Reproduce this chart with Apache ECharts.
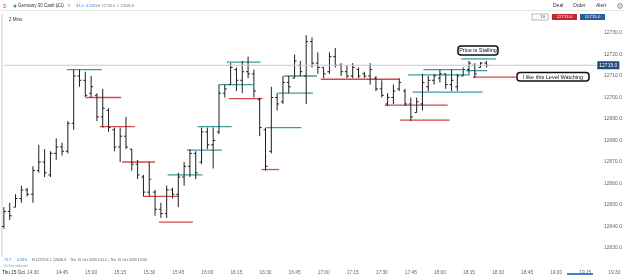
<!DOCTYPE html>
<html>
<head>
<meta charset="utf-8">
<script src="https://cdn.jsdelivr.net/npm/echarts/dist/echarts.min.js"></script>
<style>
html,body{margin:0;padding:0;background:#fff;}
#chart{width:625px;height:275px;}
</style>
</head>
<body>
<div id="chart"></div>
<script>
// 3 minute bars, Germany 30 Cash, Thu 15 Oct
var barTimes=[
'14:15','14:18','14:21','14:24','14:27','14:30','14:33','14:36','14:39','14:42',
'14:45','14:48','14:51','14:54','14:57','15:00','15:03','15:06','15:09','15:12',
'15:15','15:18','15:21','15:24','15:27','15:30','15:33','15:36','15:39','15:42',
'15:45','15:48','15:51','15:54','15:57','16:00','16:03','16:06','16:09','16:12',
'16:15','16:18','16:21','16:24','16:27','16:30','16:33','16:36','16:39','16:42',
'16:45','16:48','16:51','16:54','16:57','17:00','17:03','17:06','17:09','17:12',
'17:15','17:18','17:21','17:24','17:27','17:30','17:33','17:36','17:39','17:42',
'17:45','17:48','17:51','17:54','17:57','18:00','18:03','18:06','18:09','18:12',
'18:15','18:18','18:21','18:24'];
var openData=[
12640,12647,12649,12653,12657,12655,12666,12670,12664,12674,
12677,12675,12688,12710,12708,12702,12701,12691,12694,12685,
12677,12682,12676,12669,12663,12656,12656,12648,12646,12657,
12655,12663,12668,12674,12670,12684,12678,12684,12702,12706,
12713,12708,12712,12711,12699,12685,12675,12700,12698,12707,
12709,12715,12710,12726,12716,12714,12712,12719,12715,12712,
12710,12713,12711,12710,12709,12704,12697,12700,12704,12703,
12697,12693,12697,12705,12708,12709,12711,12706,12705,12710,
12713,12715,12714,12716];
var highData=[
12649,12651,12655,12659,12658,12668,12678,12676,12675,12681,
12679,12689,12713,12713,12712,12710,12702,12704,12695,12686,
12686,12691,12676,12671,12664,12670,12657,12651,12659,12658,
12665,12670,12676,12675,12686,12686,12686,12706,12706,12716,
12714,12717,12719,12713,12700,12686,12705,12702,12710,12710,
12720,12717,12729,12728,12721,12714,12721,12723,12716,12715,
12716,12714,12712,12716,12710,12708,12702,12706,12709,12704,
12700,12700,12711,12710,12711,12713,12711,12713,12711,12714,
12717,12716,12716.5,12717];
var lowData=[
12639,12643,12649,12651,12654,12651,12665,12663,12663,12671,
12673,12674,12685,12705,12700,12700,12689,12686,12684,12675,
12670,12676,12666,12662,12654,12654,12645,12644,12644,12653,
12649,12659,12663,12662,12669,12676,12667,12683,12700,12706,
12703,12702,12709,12700,12682,12666,12674,12694,12697,12702,
12709,12710,12697,12714,12711,12709,12711,12714,12710,12709,
12709,12709,12709,12706,12703,12700,12696,12697,12703,12696,
12689,12693,12694,12703,12706,12707,12704,12703,12703,12710,
12711,12709,12714,12714];
var closeData=[
12647,12645,12653,12657,12655,12666,12670,12665,12674,12677,
12675,12688,12710,12708,12701,12705,12691,12695,12686,12677,
12682,12677,12669,12664,12656,12662,12648,12646,12657,12655,
12663,12668,12674,12665,12684,12678,12680,12702,12704,12714,
12708,12712,12711,12703,12686,12668,12700,12697,12707,12705,
12717,12712,12726,12716,12714,12711,12719,12715,12712,12710,
12714,12710,12710,12713,12704,12701,12700,12703,12707,12697,
12691,12698,12707,12708,12710,12711,12706,12708,12710,12713,
12716,12711,12716,12715];

// drawn levels (minutes after 14:00), 't' teal / 'r' red
var levelStart=[47.5,57.5,64.5,76,87,95,99.5,109.5,115,126,130,131,150.5,148,156.5,159.5,178.5,223.5,231.5,226,211.5,219.5,257,251,253.5];
var levelEnd=[65.5,75.5,82.5,93,105,112.5,117.5,127.5,132.5,143.5,147.5,148.5,168.5,157,174.5,176.5,219,255.5,251.5,262,244,245,279.5,269,264.5];
var levelPrice=[12713,12700,12686.5,12670,12654,12642,12664,12675.5,12686.5,12706,12716.5,12699.5,12686,12666.5,12702,12710,12708.5,12710.5,12713,12702.5,12696.5,12689.5,12709.5,12718,12712.5];
var levelKind=['t','r','r','r','r','r','t','t','t','t','t','r','t','r','t','t','r','t','t','t','r','r','r','t','t'];

var lastPrice=12715;
var priceLineEnd=320.7;

function toMin(s){var p=s.split(':');return (+p[0]-14)*60+(+p[1]);}
function fmtMin(v){var h=14+Math.floor(v/60),m=v%60;return h+':'+(m<10?'0':'')+m;}

var bars=[];
for(var i=0;i<barTimes.length;i++){
	bars.push([toMin(barTimes[i]),openData[i],highData[i],lowData[i],closeData[i]]);
}
var levels=[];
for(var j=0;j<levelPrice.length;j++){
	levels.push([levelStart[j],levelEnd[j],levelPrice[j],levelKind[j]=='t'?0:1]);
}

var FONT='"Liberation Sans", Arial, sans-serif';
var myChart=echarts.init(document.getElementById('chart'));

function txt(x,y,s,size,color,extra){
	var o={type:'text',x:x,y:y,style:{text:s,fontSize:size,fill:color,fontFamily:FONT,verticalAlign:'middle'}};
	if(extra){for(var k in extra){o.style[k]=extra[k];}}
	return o;
}
function note(x,y,w,h,s){
	return {type:'group',x:x,y:y,children:[
		{type:'rect',shape:{x:0,y:0,width:w,height:h,r:3},style:{fill:'#fff',stroke:'#111',lineWidth:1.5}},
		{type:'text',x:w/2,y:h/2+0.3,style:{text:s,fontSize:5.5,fill:'#111',fontFamily:FONT,align:'center',verticalAlign:'middle'}}
	]};
}

var option={
	animation:false,
	backgroundColor:'#fff',
	grid:{left:3.9,right:0,top:11.5,height:258},
	xAxis:{
		type:'value',min:15,max:335,interval:15,
		axisLine:{show:false},axisTick:{show:false},splitLine:{show:false},
		axisLabel:{fontSize:4.8,color:'#666',margin:0.5,fontFamily:FONT,showMaxLabel:false,
			formatter:function(v){return v===15?'':fmtMin(v);}}
	},
	yAxis:{
		type:'value',position:'right',min:12620,max:12740,interval:10,
		axisLine:{show:false},axisTick:{show:false},splitLine:{show:false},
		axisLabel:{inside:true,margin:2,fontSize:5,color:'#666',fontFamily:FONT,
			formatter:function(v){return (v<12630||v>12730)?'':v.toFixed(1);}}
	},
	series:[
		{
			type:'line',
			data:[[15,lastPrice],[priceLineEnd,lastPrice]],
			symbol:'none',silent:true,
			lineStyle:{color:'#c8c8c8',width:1},
			endLabel:{show:true,formatter:lastPrice.toFixed(1),distance:1,fontSize:5,color:'#fff',
				backgroundColor:'#24497a',padding:[1.5,2],fontFamily:FONT}
		},
		{
			type:'custom',
			data:levels,
			encode:{x:[0,1],y:2},
			renderItem:function(params,api){
				var a=api.coord([api.value(0),api.value(2)]);
				var b=api.coord([api.value(1),api.value(2)]);
				var col=api.value(3)==0?'#3f9a9b':'#d8474a';
				return {type:'line',shape:{x1:a[0],y1:a[1],x2:b[0],y2:b[1]},style:{stroke:col,lineWidth:1.3}};
			}
		},
		{
			type:'custom',
			data:bars,
			encode:{x:0,y:[1,2,3,4]},
			renderItem:function(params,api){
				var t=api.value(0);
				var o=api.coord([t,api.value(1)]);
				var h=api.coord([t,api.value(2)]);
				var l=api.coord([t,api.value(3)]);
				var c=api.coord([t,api.value(4)]);
				var x=h[0];
				var st={stroke:'#1e1e1e',lineWidth:1};
				return {type:'group',children:[
					{type:'line',shape:{x1:x,y1:h[1],x2:x,y2:l[1]},style:st},
					{type:'line',shape:{x1:x-2,y1:o[1],x2:x,y2:o[1]},style:st},
					{type:'line',shape:{x1:x,y1:c[1],x2:x+2,y2:c[1]},style:st}
				]};
			}
		}
	],
	graphic:[
		// header
		{type:'line',shape:{x1:0,y1:10.5,x2:625,y2:10.5},style:{stroke:'#e6e6e6',lineWidth:1}},
		txt(3,6,'\u2261',6,'#666'),
		{type:'circle',shape:{cx:15,cy:6,r:1.5},style:{fill:'#2aa845'}},
		txt(18,6,'Germany 30 Cash (\u00a31)',4.5,'#333'),
		txt(67,6,'\u2228',4.5,'#999'),
		txt(76,6,'31.0  0.24%',4,'#2f7ed8'),
		txt(97.5,6,'H 12730.0  L 12645.0',3.8,'#777'),
		txt(553,6,'Deal',5,'#333'),
		txt(573,6,'Order',5,'#333'),
		txt(596,6,'Alert',5,'#333'),
		{type:'circle',shape:{cx:620,cy:6,r:2.3},style:{fill:'none',stroke:'#555',lineWidth:0.7}},
		txt(620,6.2,'i',4,'#555',{align:'center'}),
		txt(9,20,'2 Mins',4.5,'#333'),
		{type:'rect',shape:{x:532,y:14,width:16,height:6},style:{fill:'#fff',stroke:'#999',lineWidth:0.7}},
		txt(545,17,'10',4.2,'#333',{align:'right'}),
		{type:'rect',shape:{x:552,y:14,width:25,height:6},style:{fill:'#c1272d'}},
		txt(564.5,17,'12713.0',4.3,'#fff',{align:'center'}),
		{type:'rect',shape:{x:580,y:14,width:25,height:6},style:{fill:'#2b5c9b'}},
		txt(592.5,17,'12715.0',4.3,'#fff',{align:'center'}),
		// plot border
		{type:'line',shape:{x1:2,y1:14,x2:2,y2:257},style:{stroke:'#cfcfcf',lineWidth:1}},
		// notes
		note(458,46,40,9,'Price is Stalling'),
		note(517,72.5,72,8.5,'I like this Level Watching'),
		// footer
		txt(4,260,'73.7',3.6,'#2f7ed8'),
		txt(17,260,'0.58%',3.6,'#2f7ed8'),
		txt(32,260,'H 12729.8',3.6,'#555'),
		txt(50,260,'L 12636.3',3.6,'#555'),
		txt(70,260,'Thu 15 Oct 2020 14:15 - Thu 15 Oct 2020 19:33',3.6,'#555'),
		txt(3,265.7,'Click to indicator',3.4,'#999'),
		txt(2,272.3,'Thu 15 Oct',4.6,'#222'),
		{type:'rect',shape:{x:567,y:273,width:26,height:2},style:{fill:'#3d86d6'}}
	]
};
myChart.setOption(option);
</script>
</body>
</html>
